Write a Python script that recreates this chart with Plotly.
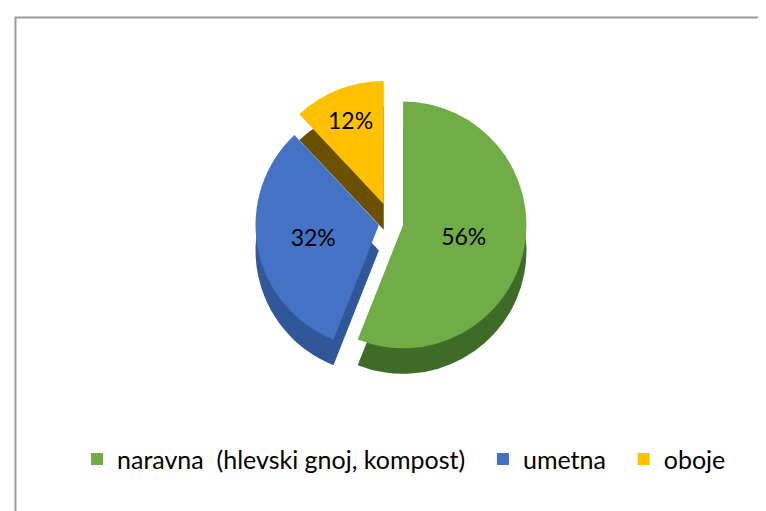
import plotly.graph_objects as go

labels = ["naravna \u00a0(hlevski gnoj, kompost)\u00a0\u00a0", "umetna\u00a0\u00a0", "oboje"]
values = [56, 32, 12]
colors = ["#70ad47", "#4472c4", "#ffc000"]
side_colors = ["#3e6b27", "#30579a", "#6b5000"]
pulls = [0.1, 0.1, 0.16]

FONT = "Lato, 'Open Sans', sans-serif"

fig = go.Figure()

# darker copy underneath, shifted down, to suggest slice thickness
fig.add_trace(go.Pie(
    labels=labels, values=values, sort=False, direction="clockwise", rotation=0,
    pull=pulls, marker=dict(colors=side_colors, line=dict(width=0)),
    textinfo="none", hoverinfo="skip", showlegend=False,
    domain=dict(x=[0.05, 0.95], y=[0.25, 0.81]),
))

fig.add_trace(go.Pie(
    labels=labels, values=values, sort=False, direction="clockwise", rotation=0,
    pull=pulls, marker=dict(colors=colors, line=dict(width=0)),
    texttemplate="%{value}%", textposition="inside",
    insidetextorientation="horizontal",
    textfont=dict(family=FONT, size=23, color="#000000"),
    domain=dict(x=[0.05, 0.95], y=[0.30, 0.86]),
))

fig.update_layout(
    width=766, height=511,
    margin=dict(l=0, r=0, t=0, b=0),
    paper_bgcolor="#ffffff",
    font=dict(family=FONT, size=25, color="#000000"),
    legend=dict(orientation="h", x=0.517, xanchor="center", y=0.117, yanchor="middle",
                font=dict(family=FONT, size=25, color="#000000"), itemwidth=30),
    shapes=[dict(type="rect", xref="paper", yref="paper",
                 x0=7.5 / 766, x1=1.02, y0=-0.02, y1=1 - 9.5 / 511,
                 line=dict(color="#9a9a9a", width=2), layer="below")],
)

fig.write_html("out.html")
